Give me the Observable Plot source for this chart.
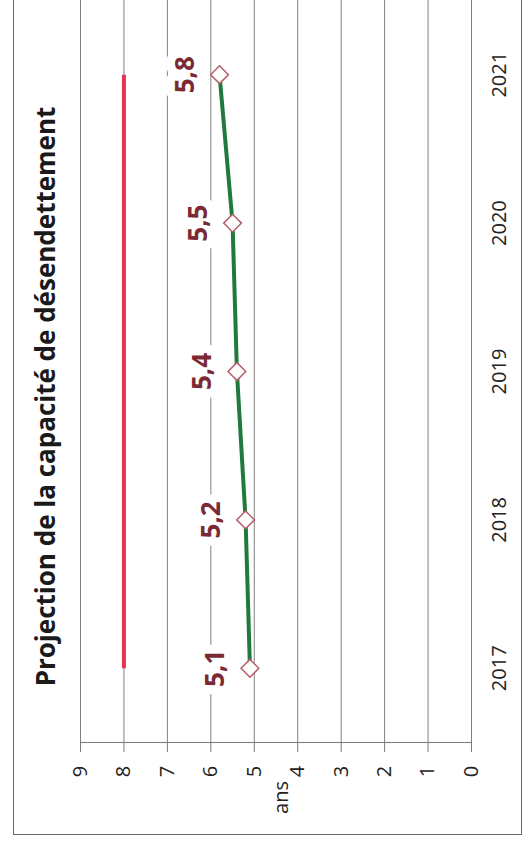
<!DOCTYPE html>
<html lang="fr">
<head>
<meta charset="utf-8">
<script src="https://cdn.jsdelivr.net/npm/d3@7"></script>
<script src="https://cdn.jsdelivr.net/npm/@observablehq/plot@0.6"></script>
<style>
  html, body { margin: 0; padding: 0; background: #ffffff; overflow: hidden; }
  #wrap { position: relative; width: 524px; height: 852px; }
  #cadre { position: absolute; left: 13px; top: -10px; width: 509px; height: 845px;
           box-sizing: border-box; border: 1px solid #666; pointer-events: none; }
  #chart { position: absolute; left: 0; top: 0; }
</style>
</head>
<body>
<div id="wrap"><div id="chart"></div><div id="cadre"></div></div>
<script>
// --- Données ---
const annees = [2017, 2018, 2019, 2020, 2021];
const capacite = [5.1, 5.2, 5.4, 5.5, 5.8];
const etiquettes = ["5,1", "5,2", "5,4", "5,5", "5,8"];
const seuil = [8, 8, 8, 8, 8];
const graduations = [0, 1, 2, 3, 4, 5, 6, 7, 8, 9];
const titre = "Projection de la capacité de désendettement";
const uniteAxe = "ans";

const rows = annees.map((a, i) => ({annee: a, valeur: capacite[i], label: etiquettes[i], seuil: seuil[i]}));

const gridColor = "#808080";
const font = "'Open Sans', 'DejaVu Sans', sans-serif";
const centre = {textAnchor: "middle", lineAnchor: "middle", rotate: -90, fontFamily: font};

const chart = Plot.plot({
  width: 524,
  height: 852,
  marginLeft: 80,
  marginRight: 53,
  marginTop: 0,
  marginBottom: 110,
  style: {background: "transparent", color: "#7a7a7a", fontFamily: font},
  x: {domain: [0, 9], reverse: true, ticks: graduations, tickSize: 10, tickFormat: () => "", line: true, label: null},
  y: {domain: [2016.5, 2021.5], axis: null, label: null},
  marks: [
    Plot.ruleX(graduations, {x: d => d, stroke: gridColor, strokeWidth: 1}),
    Plot.line(rows, {x: "seuil", y: "annee", stroke: "#e8354d", strokeWidth: 4, strokeLinecap: "butt"}),
    Plot.text(rows, {...centre, x: "valeur", y: "annee", text: "label", dx: -34,
      fill: "#7b2a35", stroke: "white", strokeWidth: 18, fontWeight: "bold", fontSize: 26}),
    Plot.line(rows, {x: "valeur", y: "annee", stroke: "#1f7a3c", strokeWidth: 4}),
    Plot.dot(rows, {x: "valeur", y: "annee", symbol: "diamond2", r: 8, fill: "white", stroke: "#b55f6d", strokeWidth: 1.5}),
    Plot.text(annees, {...centre, y: d => d, frameAnchor: "right", dx: 28, text: d => String(d),
      fill: "#222", fontSize: 20}),
    Plot.text(graduations, {...centre, x: d => d, frameAnchor: "bottom", dy: 29, text: d => String(d),
      fill: "#222", fontSize: 20}),
    Plot.text([uniteAxe], {...centre, frameAnchor: "bottom", dx: 6, dy: 55, text: d => d,
      fill: "#222", fontSize: 20}),
    Plot.text([titre], {...centre, frameAnchor: "left", dx: -34, dy: 25, text: d => d,
      fill: "#1a1a1a", fontSize: 26, fontWeight: "bold"})
  ]
});
document.getElementById("chart").appendChild(chart);
</script>
</body>
</html>
